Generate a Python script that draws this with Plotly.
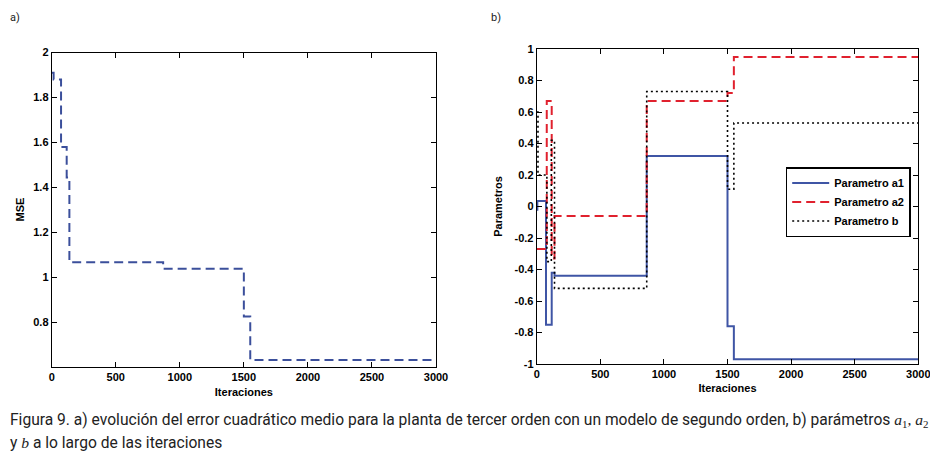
import plotly.graph_objects as go

# ---- data ----
mse_iter = [0, 15, 73, 117, 138, 870, 1500, 1550, 3000]
mse_val = [1.91, 1.88, 1.58, 1.445, 1.068, 1.039, 0.827, 0.634, 0.634]

a1_iter = [0, 5, 73, 118, 140, 865, 1500, 1550, 3000]
a1_val = [-0.02, 0.035, -0.75, -0.42, -0.44, 0.32, -0.76, -0.97, -0.97]

a2_iter = [0, 79, 118, 140, 865, 1500, 1550, 3000]
a2_val = [-0.27, 0.67, -0.33, -0.06, 0.67, 0.72, 0.95, 0.95]

b_iter = [0, 10, 80, 115, 140, 865, 1500, 1550, 3000]
b_val = [0.6, 0.2, -0.35, 0.42, -0.52, 0.73, 0.11, 0.53, 0.53]

x_ticks = [0, 500, 1000, 1500, 2000, 2500, 3000]
mse_ticks = [0.8, 1.0, 1.2, 1.4, 1.6, 1.8, 2.0]
mse_ticktext = ["0.8", "1", "1.2", "1.4", "1.6", "1.8", "2"]
par_ticks = [-1, -0.8, -0.6, -0.4, -0.2, 0, 0.2, 0.4, 0.6, 0.8, 1]
par_ticktext = ["-1", "-0.8", "-0.6", "-0.4", "-0.2", "0", "0.2", "0.4", "0.6", "0.8", "1"]

# page has an 8px body margin; lay the figure out in page pixels minus that offset
O = 8
W, H = 930, 454


def px(x):
    return (x - O) / W


def py(y):
    return 1 - (y - O) / H


FONT = "Liberation Sans, Arial, sans-serif"
BOLD = dict(family=FONT, size=11, color="black", weight="bold")

fig = go.Figure()

fig.add_trace(go.Scatter(x=mse_iter, y=mse_val, mode="lines", line_shape="hv",
                         line=dict(color="#3B4F9B", width=2, dash="9px,5px"),
                         showlegend=False, xaxis="x", yaxis="y"))

fig.add_trace(go.Scatter(x=a1_iter, y=a1_val, mode="lines", line_shape="hv",
                         name="Parametro a1",
                         line=dict(color="#3F55A5", width=2),
                         xaxis="x2", yaxis="y2"))
fig.add_trace(go.Scatter(x=a2_iter, y=a2_val, mode="lines", line_shape="hv",
                         name="Parametro a2",
                         line=dict(color="#E0212E", width=2, dash="9px,5px"),
                         xaxis="x2", yaxis="y2"))
fig.add_trace(go.Scatter(x=b_iter, y=b_val, mode="lines", line_shape="hv",
                         name="Parametro b",
                         line=dict(color="#000000", width=1.6, dash="2px,3px"),
                         xaxis="x2", yaxis="y2"))

axis_common = dict(showline=True, linecolor="black", linewidth=1, mirror="allticks",
                   ticks="inside", ticklen=5, tickcolor="black", showgrid=False,
                   zeroline=False, automargin=False, tickfont=BOLD)

fig.update_layout(
    template="none",
    width=W, height=H,
    margin=dict(l=0, r=0, t=0, b=0, pad=0),
    paper_bgcolor="white", plot_bgcolor="white",
    xaxis=dict(domain=[px(51.7), px(436)], range=[0, 3000], tickvals=x_ticks,
               anchor="y", title=dict(text="Iteraciones", standoff=6, font=BOLD),
               **axis_common),
    yaxis=dict(domain=[py(366.5), py(52.5)], range=[0.605, 2],
               tickvals=mse_ticks, ticktext=mse_ticktext, anchor="x",
               title=dict(text="MSE", standoff=6, font=BOLD),
               **axis_common),
    xaxis2=dict(domain=[px(536.7), px(918.3)], range=[0, 3000], tickvals=x_ticks,
                anchor="y2", title=dict(text="Iteraciones", standoff=5, font=BOLD),
                **axis_common),
    yaxis2=dict(domain=[py(364), py(49)], range=[-1, 1],
                tickvals=par_ticks, ticktext=par_ticktext, anchor="x2",
                title=dict(text="Parametros", standoff=9, font=BOLD),
                **axis_common),
    legend=dict(x=px(785.7), y=py(167), xanchor="left", yanchor="top",
                bgcolor="white", bordercolor="black", borderwidth=1.5,
                font=BOLD, itemwidth=37, tracegroupgap=0),
    showlegend=True,
)

cap_font = dict(family="Roboto, sans-serif", size=15.6, color="#222222")
fig.add_annotation(xref="paper", yref="paper", x=px(8), y=py(420),
                   xanchor="left", yanchor="middle", showarrow=False,
                   text=("Figura 9. a) evolución del error cuadrático medio para la planta de tercer orden "
                         "con un modelo de segundo orden, b) parámetros "
                         "<span style='font-family:Liberation Serif'><i>a</i><sub>1</sub>, <i>a</i><sub>2</sub></span>"),
                   font=cap_font, align="left")
fig.add_annotation(xref="paper", yref="paper", x=px(8), y=py(443),
                   xanchor="left", yanchor="middle", showarrow=False,
                   text="y <span style='font-family:Liberation Serif'><i>b</i></span> a lo largo de las iteraciones",
                   font=cap_font, align="left")

lab_font = dict(family="Roboto, sans-serif", size=11, color="#222222")
fig.add_annotation(xref="paper", yref="paper", x=px(8), y=py(17), xanchor="left",
                   yanchor="middle", showarrow=False, text="a)", font=lab_font)
fig.add_annotation(xref="paper", yref="paper", x=px(489), y=py(17), xanchor="left",
                   yanchor="middle", showarrow=False, text="b)", font=lab_font)

fig.write_html("out.html")
